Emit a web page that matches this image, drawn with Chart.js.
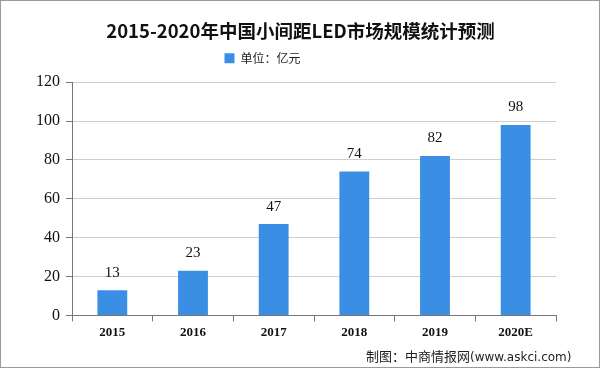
<!DOCTYPE html>
<html>
<head>
<meta charset="utf-8">
<script src="https://cdn.jsdelivr.net/npm/chart.js@4/dist/chart.umd.min.js"></script>
<style>
  html, body { margin: 0; padding: 0; background: #fff; }
  #wrap { position: relative; width: 598px; height: 366px; border: 1px solid #9a9a9a; }
  #note { position: absolute; left: 365px; top: 345px; font: 13px "Noto Sans CJK SC", sans-serif; color: #222; }
  #note span { font-family: "DejaVu Sans", sans-serif; font-size: 12px; }
</style>
</head>
<body>
<div id="wrap">
  <canvas id="myChart" width="598" height="366"></canvas>
  <div id="note">制图：中商情报网<span>(www.askci.com)</span></div>
</div>
<script>
const years = ['2015', '2016', '2017', '2018', '2019', '2020E'];
const sizes = [13, 23, 47, 74, 82, 98];
const yTicks = [0, 20, 40, 60, 80, 100, 120];

const ctx = document.getElementById('myChart').getContext('2d');

// 柱顶数值
const valueLabels = {
  id: 'valueLabels',
  afterDatasetsDraw(chart) {
    const c = chart.ctx;
    const meta = chart.getDatasetMeta(0);
    c.save();
    c.font = '15px "Liberation Serif", serif';
    c.fillStyle = '#111';
    c.textAlign = 'center';
    c.textBaseline = 'bottom';
    meta.data.forEach((bar, i) => {
      c.fillText(sizes[i], bar.x, bar.y - 10);
    });
    c.restore();
  }
};

// 图例下方多留一点空，标题和图例左右挪一下
const headerTweak = {
  id: 'headerTweak',
  beforeInit(chart) {
    const fit = chart.legend.fit;
    chart.legend.fit = function () {
      fit.call(this);
      this.height += 8;
    };
  },
  afterLayout(chart) {
    chart.titleBlock.left += 22;
    chart.titleBlock.right += 22;
    chart.legend.left -= 16;
    chart.legend.right -= 16;
  }
};

new Chart(ctx, {
  type: 'bar',
  data: {
    labels: years,
    datasets: [{
      label: '单位：亿元',
      data: sizes,
      backgroundColor: '#3a8fe4',
      borderWidth: 0,
      barPercentage: 0.37,
      categoryPercentage: 1
    }]
  },
  plugins: [valueLabels, headerTweak],
  options: {
    responsive: false,
    animation: false,
    layout: { padding: { left: 0, right: 43, top: 15, bottom: 24 } },
    plugins: {
      title: {
        display: true,
        text: '2015-2020年中国小间距LED市场规模统计预测',
        color: '#111',
        font: { family: '"Noto Sans CJK SC", serif', size: 18.5, weight: 'bold' },
        padding: { top: 4, bottom: 0 }
      },
      legend: {
        labels: {
          color: '#222',
          boxWidth: 10,
          boxHeight: 10,
          font: { family: '"Noto Sans CJK SC", sans-serif', size: 12 }
        }
      },
      tooltip: { enabled: false }
    },
    scales: {
      x: {
        grid: { offset: true, drawOnChartArea: false, tickLength: 6, color: '#777' },
        border: { color: '#777' },
        ticks: { color: '#111', padding: 3, font: { family: '"Liberation Serif", serif', size: 13, weight: 'bold' } }
      },
      y: {
        min: 0,
        max: 120,
        afterFit: s => { s.width = 71; },
        afterBuildTicks: s => { s.ticks = yTicks.map(v => ({ value: v })); },
        grid: { color: '#cfcfcf', tickLength: 6, tickColor: '#777' },
        border: { color: '#777' },
        ticks: { color: '#111', padding: 6, font: { family: '"Liberation Serif", serif', size: 16 } }
      }
    }
  }
});
</script>
</body>
</html>
